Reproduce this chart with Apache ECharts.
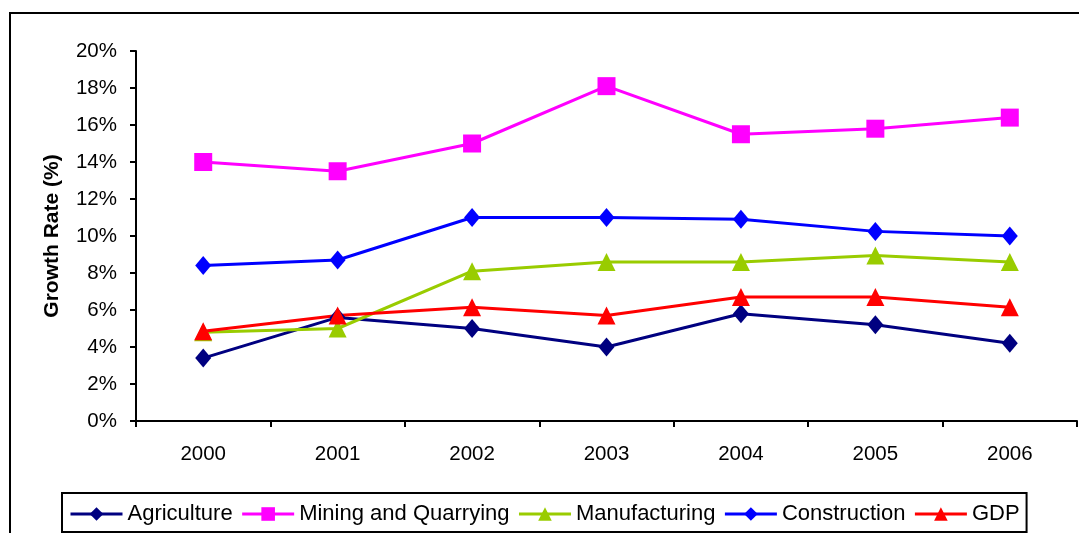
<!DOCTYPE html>
<html>
<head>
<meta charset="utf-8">
<script src="https://cdn.jsdelivr.net/npm/echarts@6/dist/echarts.min.js"></script>
<style>
  html, body { margin: 0; padding: 0; background: #fff; }
  #chart { width: 1079px; height: 533px; }
</style>
</head>
<body>
<div id="chart"></div>
<script>
// Sector growth rates (%), 2000-2006
const years = ['2000', '2001', '2002', '2003', '2004', '2005', '2006'];
const agriculture = [3.4, 5.6, 5.0, 4.0, 5.8, 5.2, 4.2];
const mining = [14.0, 13.5, 15.0, 18.1, 15.5, 15.8, 16.4];
const manufacturing = [4.8, 5.0, 8.1, 8.6, 8.6, 8.95, 8.6];
const construction = [8.4, 8.7, 11.0, 11.0, 10.9, 10.25, 10.0];
const gdp = [4.85, 5.7, 6.15, 5.7, 6.7, 6.7, 6.15];
const yTicks = { min: 0, max: 20, step: 2 };

const font = 'Liberation Sans, Arial, sans-serif';

function line(name, data, color, symbol, size) {
  return {
    name, type: 'line', data,
    symbol, symbolSize: size,
    showSymbol: true,
    lineStyle: { color, width: 3 },
    itemStyle: { color },
    emphasis: { disabled: true },
    animation: false
  };
}

const chart = echarts.init(document.getElementById('chart'), null, { renderer: 'canvas' });
chart.setOption({
  backgroundColor: '#fff',
  animation: false,
  textStyle: { fontFamily: font },
  graphic: [{
    type: 'rect',
    shape: { x: 10, y: 13, width: 1200, height: 600 },
    style: { fill: 'none', stroke: '#000', lineWidth: 2 },
    silent: true
  }],
  grid: { left: 136, right: 2, top: 51, bottom: 112, containLabel: false },
  legend: {
    left: 62, top: 493,
    padding: [10, 7, 7, 7],
    itemGap: 8,
    itemWidth: 52, itemHeight: 17,
    borderColor: '#000', borderWidth: 2,
    lineStyle: { width: 3 },
    textStyle: { fontFamily: font, fontSize: 22, color: '#000' },
    data: ['Agriculture', 'Mining and Quarrying', 'Manufacturing', 'Construction', 'GDP']
  },
  xAxis: {
    type: 'category',
    data: years,
    boundaryGap: true,
    axisLine: { lineStyle: { color: '#000', width: 2 } },
    axisTick: { show: true, length: 6, lineStyle: { color: '#000', width: 2 } },
    axisLabel: { color: '#000', fontSize: 20.5, fontFamily: font, margin: 23 },
    splitLine: { show: false }
  },
  yAxis: {
    type: 'value',
    min: yTicks.min, max: yTicks.max, interval: yTicks.step,
    name: 'Growth Rate (%)',
    nameLocation: 'middle',
    nameRotate: 90,
    nameGap: 73,
    nameTextStyle: { color: '#000', fontSize: 21, fontWeight: 'bold', fontFamily: font },
    axisLine: { show: true, lineStyle: { color: '#000', width: 2 } },
    axisTick: { show: true, length: 6, lineStyle: { color: '#000', width: 2 } },
    axisLabel: { color: '#000', fontSize: 20.5, fontFamily: font, margin: 19, formatter: '{value}%' },
    splitLine: { show: false }
  },
  series: [
    line('Agriculture', agriculture, '#000080', 'diamond', [16, 19]),
    line('Mining and Quarrying', mining, '#FF00FF', 'rect', 18),
    line('Manufacturing', manufacturing, '#99CC00', 'triangle', [18, 18]),
    line('Construction', construction, '#0000FF', 'diamond', [16, 19]),
    line('GDP', gdp, '#FF0000', 'triangle', [18, 18])
  ]
});
</script>
</body>
</html>
